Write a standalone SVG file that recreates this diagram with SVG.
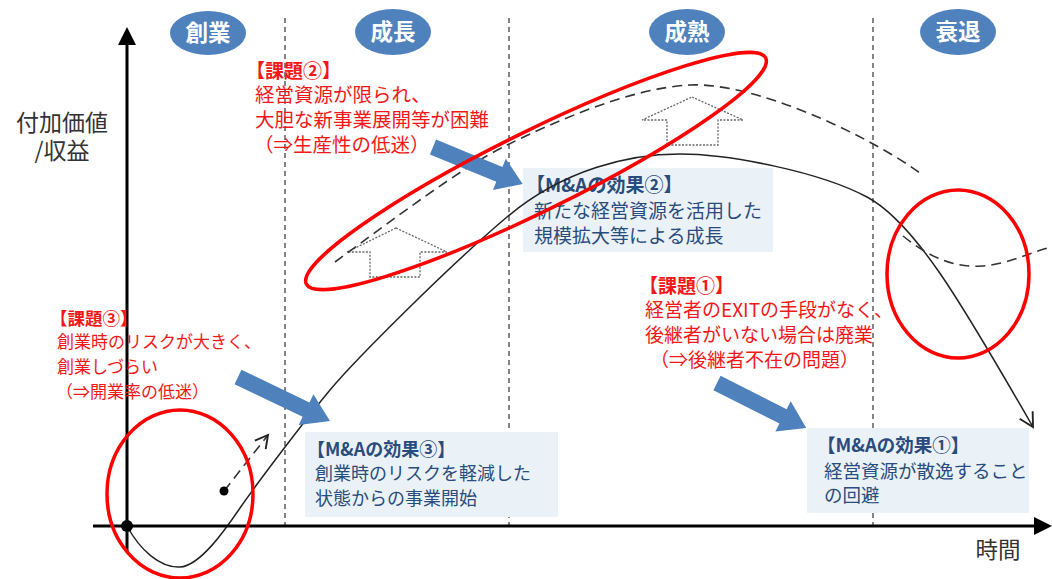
<svg xmlns="http://www.w3.org/2000/svg" xmlns:xlink="http://www.w3.org/1999/xlink" width="1052" height="579" viewBox="0 0 1052 579">
<style>
.jp{font-family:"Noto Sans CJK JP","Noto Sans",sans-serif;}
.stage{fill:#4F81BD;}
.stagetxt{fill:#ffffff;font-weight:bold;font-size:22.5px;text-anchor:middle;}
.red{fill:#F21818;}
.redb{fill:#F21818;font-weight:bold;}
.box{fill:#EAF2F8;}
.boxtxt{fill:#2A4C7C;}
.boxhd{fill:#2A4C7C;font-weight:bold;}
.vline{stroke:#444;stroke-width:1.3;stroke-dasharray:5,4;fill:none;}
.axis{stroke:#000;stroke-width:3;fill:none;}
.curve{stroke:#222;stroke-width:1.5;fill:none;}
.dcurve{stroke:#333;stroke-width:1.6;fill:none;stroke-dasharray:10,6;}
.ring{stroke:#FF0000;stroke-width:3.5;fill:none;}
.blk{fill:#4F81BD;}
.uparr{fill:none;stroke:#666;stroke-width:1.3;stroke-dasharray:2,1.5;}
.lbl{fill:#333;text-anchor:middle;}
</style>
<defs>
<path id="blkArrow" d="M0,-8 L74,-8 L74,-17 L100,0 L74,17 L74,8 L0,8 Z"/>
<marker id="openHead" markerUnits="userSpaceOnUse" markerWidth="20" markerHeight="20" viewBox="-12 -8 14 16" refX="0" refY="0" orient="auto">
<path d="M-11,-6 L0,0 L-11,6" fill="none" stroke="#222" stroke-width="1.5"/>
</marker>
<marker id="openHeadD" markerUnits="userSpaceOnUse" markerWidth="20" markerHeight="20" viewBox="-12 -8 14 16" refX="0" refY="0" orient="auto">
<path d="M-10,-5.5 L0,0 L-10,5.5" fill="none" stroke="#222" stroke-width="1.5"/>
</marker>
</defs>

<g id="stage-lines">
<line class="vline" x1="285" y1="18" x2="285" y2="526"/>
<line class="vline" x1="509" y1="18" x2="509" y2="526"/>
<line class="vline" x1="873" y1="18" x2="873" y2="526"/>
</g>

<g id="boxes">
<g id="box2"><rect class="box" x="523" y="168" width="250" height="84"/>
<text class="jp boxhd" x="526" y="192" font-size="19">【M&amp;Aの効果②】</text>
<text class="jp boxtxt" x="534" y="218" font-size="19">新たな経営資源を活用した</text>
<text class="jp boxtxt" x="534" y="243" font-size="19">規模拡大等による成長</text></g>
<g id="box3"><rect class="box" x="305" y="432" width="253" height="85"/>
<text class="jp boxhd" x="307" y="456" font-size="18">【M&amp;Aの効果③】</text>
<text class="jp boxtxt" x="315" y="480" font-size="18">創業時のリスクを軽減した</text>
<text class="jp boxtxt" x="315" y="505" font-size="18">状態からの事業開始</text></g>
<g id="box1"><rect class="box" x="807" y="428" width="222" height="85"/>
<text class="jp boxhd" x="817" y="452" font-size="18.5">【M&amp;Aの効果①】</text>
<text class="jp boxtxt" x="824" y="478" font-size="18.5">経営資源が散逸すること</text>
<text class="jp boxtxt" x="824" y="502" font-size="18.5">の回避</text></g>
</g>

<g id="up-arrows">
<polygon class="uparr" points="396,228 447,252 420,252 420,277 370,277 370,252 347,252"/>
<polygon class="uparr" points="692,97 743,120 718,120 718,145 667,145 667,120 642,120"/>
</g>

<g id="connectors">
<path class="curve" marker-end="url(#openHead)" d="M127,526 C140,550 160,568 180,567 C200,566 225,530 240,508 C255,486 305,420 330,390 C355,360 450,265 507,217 C564,169 630,154 680,154 C730,154 820,172 867,197 C914,222 960,300 1033,427"/>
<path class="dcurve" d="M335,262 C390,222 460,168 507,145 C554,122 630,88 690,85 C750,82 860,130 920,173"/>
<path class="dcurve" d="M903,236 C930,258 955,268 982,266 C1010,264 1030,252 1052,247"/>
<line class="dcurve" x1="224" y1="491" x2="268" y2="435" stroke-dasharray="7,5" marker-end="url(#openHeadD)"/>
<circle cx="224" cy="491" r="4.5" fill="#000"/>
</g>

<g id="axes">
<line class="axis" x1="127" y1="552" x2="127" y2="44"/>
<polygon points="127,27 118,45 136,45" fill="#000"/>
<line class="axis" x1="93" y1="526" x2="1036" y2="526"/>
<polygon points="1052,526 1034,517 1034,535" fill="#000"/>
<circle cx="127" cy="526" r="6" fill="#000"/>
<text class="jp lbl" x="62" y="131" font-size="23">付加価値</text>
<text class="jp lbl" x="62" y="159" font-size="23">/収益</text>
<text class="jp lbl" x="998" y="558" font-size="22.5">時間</text>
</g>

<g id="stages">
<g id="stage-sogyo"><ellipse class="stage" cx="208" cy="33" rx="38" ry="22"/><text class="jp stagetxt" x="208" y="41">創業</text></g>
<g id="stage-seicho"><ellipse class="stage" cx="393" cy="32" rx="38" ry="23"/><text class="jp stagetxt" x="393" y="40">成長</text></g>
<g id="stage-seijuku"><ellipse class="stage" cx="687" cy="32" rx="38" ry="23"/><text class="jp stagetxt" x="687" y="40">成熟</text></g>
<g id="stage-suitai"><ellipse class="stage" cx="958" cy="32" rx="38" ry="23"/><text class="jp stagetxt" x="958" y="40">衰退</text></g>
</g>

<g id="issue2">
<text class="jp redb" x="246" y="78" font-size="19">【課題②】</text>
<text class="jp red" x="255" y="102" font-size="19.5">経営資源が限られ、</text>
<text class="jp red" x="255" y="127" font-size="19.5">大胆な新事業展開等が困難</text>
<text class="jp red" x="254" y="152" font-size="19.5">（⇒生産性の低迷）</text>
</g>
<g id="issue3">
<text class="jp redb" x="50" y="325" font-size="17.5">【課題③】</text>
<text class="jp red" x="57" y="348" font-size="17">創業時のリスクが大きく、</text>
<text class="jp red" x="57" y="373" font-size="17">創業しづらい</text>
<text class="jp red" x="56" y="398" font-size="17">（⇒開業率の低迷）</text>
</g>
<g id="issue1">
<text class="jp redb" x="639" y="293" font-size="19">【課題①】</text>
<text class="jp red" x="645" y="317" font-size="19">経営者のEXITの手段がなく、</text>
<text class="jp red" x="645" y="342" font-size="19">後継者がいない場合は廃業</text>
<text class="jp red" x="650" y="367" font-size="19">（⇒後継者不在の問題）</text>
</g>

<g id="block-arrows">
<use xlink:href="#blkArrow" class="blk" transform="translate(433,147) rotate(22.4) scale(0.97,1)"/>
<use xlink:href="#blkArrow" class="blk" transform="translate(238,377) rotate(25.6) scale(1.02,1)"/>
<use xlink:href="#blkArrow" class="blk" transform="translate(717,383) rotate(26.8)"/>
</g>

<g id="red-rings">
<ellipse class="ring" cx="180" cy="494" rx="73" ry="84"/>
<ellipse class="ring" cx="536" cy="171" rx="256" ry="40" transform="rotate(-26.2 536 171)"/>
<ellipse class="ring" cx="958" cy="274" rx="71" ry="84"/>
</g>
</svg>
